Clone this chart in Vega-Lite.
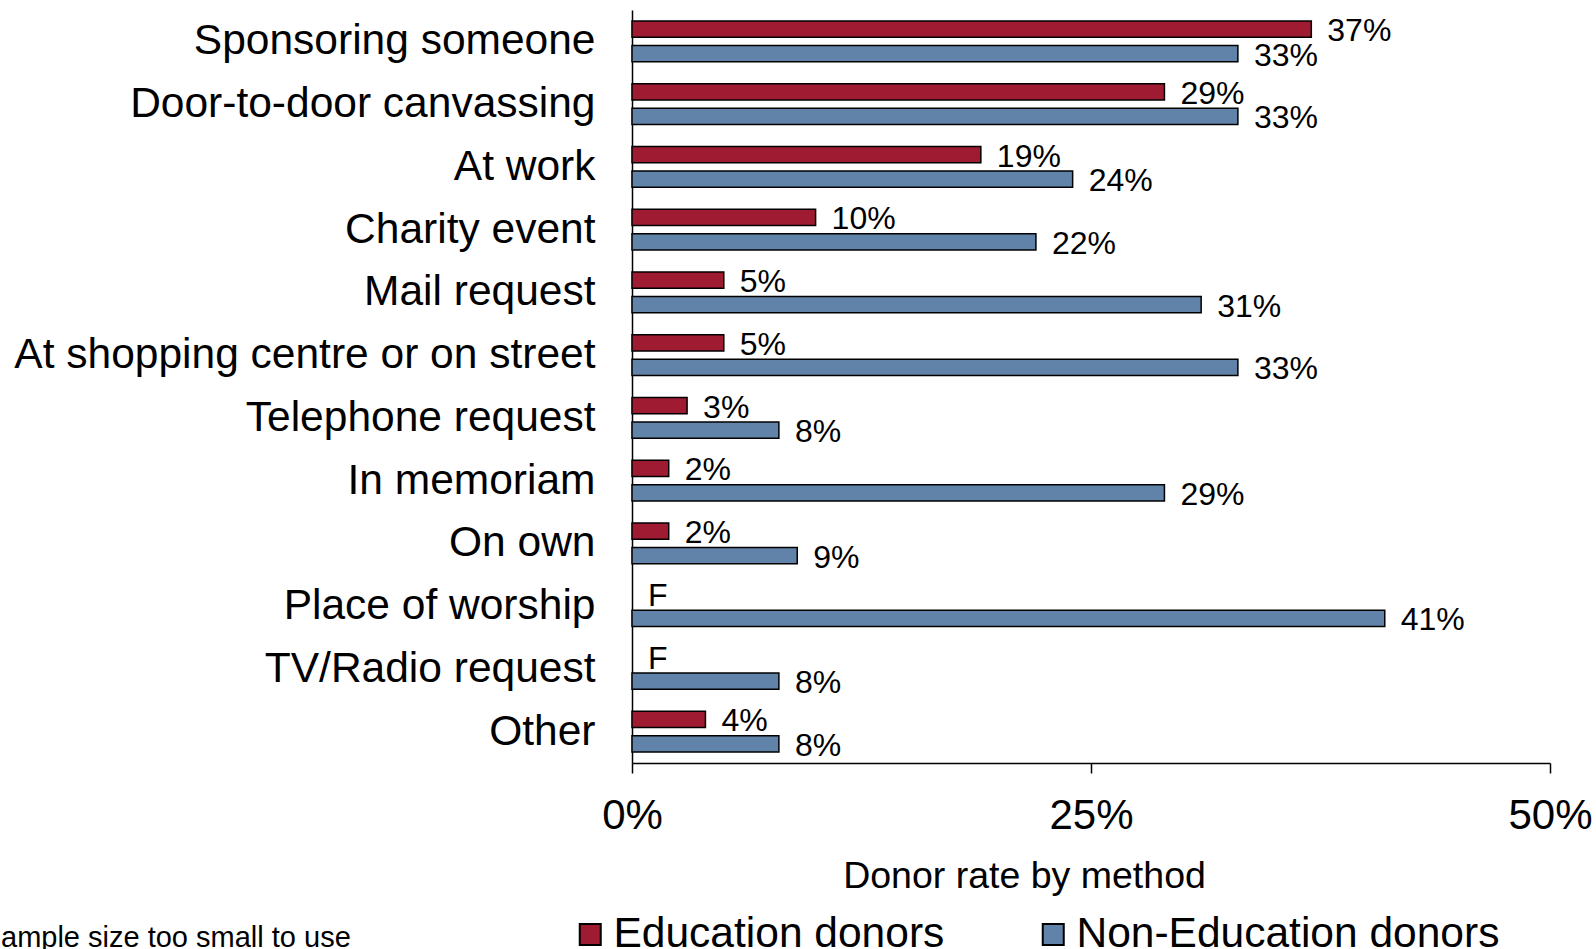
{
  "$schema": "https://vega.github.io/schema/vega-lite/v6.json",
  "autosize": "none",
  "padding": {"left": 632, "top": 10, "right": 46, "bottom": 186},
  "width": 918,
  "height": 753,
  "background": "white",
  "title": {
    "text": "ample size too small to use",
    "orient": "top",
    "anchor": "start",
    "frame": "group",
    "offset": 0,
    "dx": -631,
    "dy": 957,
    "baseline": "middle",
    "fontSize": 29,
    "fontWeight": "normal",
    "font": "Liberation Sans",
    "color": "black"
  },
  "config": {
    "view": {"stroke": null},
    "font": "Liberation Sans",
    "axis": {"domainColor": "black", "domainWidth": 1.5, "tickColor": "black", "tickWidth": 1.5, "labelColor": "black", "titleColor": "black", "grid": false, "labelFont": "Liberation Sans", "titleFont": "Liberation Sans"},
    "legend": {"labelFont": "Liberation Sans", "labelColor": "black"}
  },
  "data": {
    "values": [
      {"method": "Sponsoring someone", "series": "Education donors", "value": 0.37, "label": "37%"},
      {"method": "Sponsoring someone", "series": "Non-Education donors", "value": 0.33, "label": "33%"},
      {"method": "Door-to-door canvassing", "series": "Education donors", "value": 0.29, "label": "29%"},
      {"method": "Door-to-door canvassing", "series": "Non-Education donors", "value": 0.33, "label": "33%"},
      {"method": "At work", "series": "Education donors", "value": 0.19, "label": "19%"},
      {"method": "At work", "series": "Non-Education donors", "value": 0.24, "label": "24%"},
      {"method": "Charity event", "series": "Education donors", "value": 0.10, "label": "10%"},
      {"method": "Charity event", "series": "Non-Education donors", "value": 0.22, "label": "22%"},
      {"method": "Mail request", "series": "Education donors", "value": 0.05, "label": "5%"},
      {"method": "Mail request", "series": "Non-Education donors", "value": 0.31, "label": "31%"},
      {"method": "At shopping centre or on street", "series": "Education donors", "value": 0.05, "label": "5%"},
      {"method": "At shopping centre or on street", "series": "Non-Education donors", "value": 0.33, "label": "33%"},
      {"method": "Telephone request", "series": "Education donors", "value": 0.03, "label": "3%"},
      {"method": "Telephone request", "series": "Non-Education donors", "value": 0.08, "label": "8%"},
      {"method": "In memoriam", "series": "Education donors", "value": 0.02, "label": "2%"},
      {"method": "In memoriam", "series": "Non-Education donors", "value": 0.29, "label": "29%"},
      {"method": "On own", "series": "Education donors", "value": 0.02, "label": "2%"},
      {"method": "On own", "series": "Non-Education donors", "value": 0.09, "label": "9%"},
      {"method": "Place of worship", "series": "Education donors", "value": 0, "label": "F"},
      {"method": "Place of worship", "series": "Non-Education donors", "value": 0.41, "label": "41%"},
      {"method": "TV/Radio request", "series": "Education donors", "value": 0, "label": "F"},
      {"method": "TV/Radio request", "series": "Non-Education donors", "value": 0.08, "label": "8%"},
      {"method": "Other", "series": "Education donors", "value": 0.04, "label": "4%"},
      {"method": "Other", "series": "Non-Education donors", "value": 0.08, "label": "8%"}
    ]
  },
  "encoding": {
    "y": {
      "field": "method",
      "type": "nominal",
      "sort": null,
      "scale": {"paddingInner": 0.35, "paddingOuter": 0.175},
      "axis": {"title": null, "ticks": false, "labelFontSize": 42.5, "labelPadding": 37, "labelLimit": 800, "domainWidth": 1.5}
    },
    "yOffset": {
      "field": "series",
      "type": "nominal",
      "sort": ["Education donors", "Non-Education donors"],
      "scale": {"paddingInner": 0.33, "paddingOuter": 0}
    },
    "x": {
      "field": "value",
      "type": "quantitative",
      "scale": {"domain": [0, 0.5], "nice": false, "zero": true},
      "axis": {
        "values": [0, 0.25, 0.5],
        "format": ".0%",
        "title": "Donor rate by method",
        "labelFontSize": 42,
        "labelFlush": false,
        "labelPadding": 22,
        "tickSize": 10,
        "titleFontSize": 37.5,
        "titleFontWeight": "normal",
        "titleX": 392,
        "titleY": 113,
        "titleAlign": "center",
        "titleBaseline": "middle"
      }
    }
  },
  "layer": [
    {
      "transform": [{"filter": "datum.label != 'F'"}],
      "mark": {"type": "bar", "stroke": "black", "strokeWidth": 1.5},
      "encoding": {
        "color": {
          "field": "series",
          "type": "nominal",
          "scale": {"domain": ["Education donors", "Non-Education donors"], "range": ["#9E1B32", "#6283A9"]},
          "legend": {
            "orient": "none",
            "legendX": -63,
            "legendY": 903,
            "direction": "horizontal",
            "title": null,
            "labelFontSize": 42.5,
            "labelLimit": 800,
            "symbolType": "square",
            "symbolSize": 441,
            "symbolStrokeColor": "black",
            "symbolStrokeWidth": 2,
            "labelOffset": 2,
            "columnPadding": 87,
            "padding": 0
          }
        }
      }
    },
    {
      "mark": {"type": "text", "align": "left", "baseline": "middle", "dx": 16, "dy": 2, "fontSize": 32, "color": "black"},
      "encoding": {"text": {"field": "label"}}
    }
  ]
}
